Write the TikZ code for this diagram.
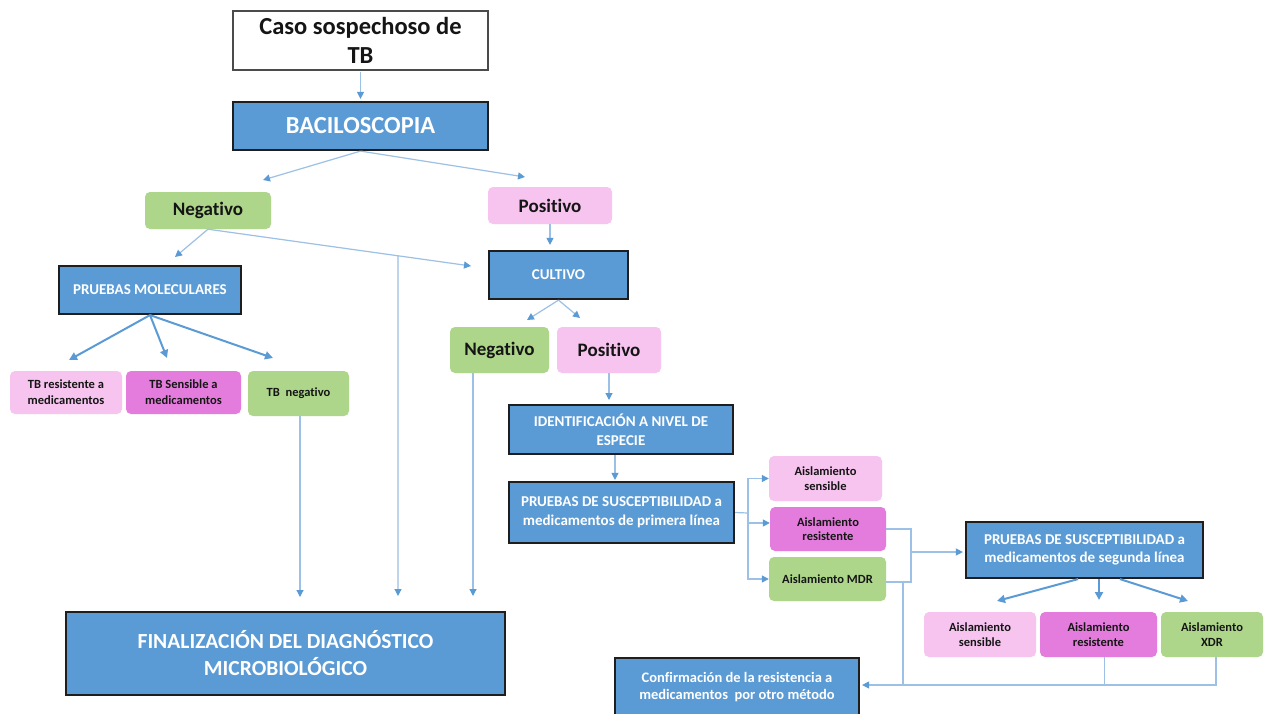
\documentclass[tikz,border=0pt]{standalone}
\usepackage{fontspec}
\setmainfont{Carlito}[Ligatures=NoCommon]
\usetikzlibrary{arrows.meta}
\definecolor{cblue}{HTML}{5B9BD5}
\definecolor{cline}{HTML}{9DC0E6}
\definecolor{cgreen}{HTML}{ADD68A}
\definecolor{clpink}{HTML}{F6C4EF}
\definecolor{cmag}{HTML}{E47CDD}
\definecolor{cborder}{HTML}{1E1E1E}
\definecolor{ctext}{HTML}{151515}
\begin{document}
\begin{tikzpicture}[x=1pt,y=-1pt,
  bluebox/.style={draw=cborder, line width=2.2pt, fill=cblue, text=white, align=center, inner sep=0pt, font=\bfseries},
  softbox/.style={rounded corners=5pt, inner sep=0pt, align=center, text=ctext, font=\bfseries},
  gbox/.style={softbox, fill=cgreen},
  pbox/.style={softbox, fill=clpink},
  mbox/.style={softbox, fill=cmag},
  conn/.style={draw=cline, line width=1.2pt},
  arr/.style={conn, -{Triangle[length=7pt,width=7pt,color=cblue]}},
  bigarr/.style={draw=cblue, line width=2pt, -{Triangle[length=8pt,width=8pt,color=cblue]}},
  fbig/.style={font=\fontsize{24.5}{29}\selectfont\bfseries},
  fmid/.style={font=\fontsize{19}{23}\selectfont\bfseries},
  fsm/.style={font=\fontsize{15}{18.5}\selectfont\bfseries},
  ftiny/.style={font=\fontsize{12.5}{16}\selectfont\bfseries},
  fais/.style={font=\fontsize{12.5}{14.5}\selectfont\bfseries}
]
\useasboundingbox (0,0) rectangle (1270,713);
\fill[white] (0,0) rectangle (1270,713);

% nodes
\node[draw=cborder!80, line width=1.4pt, fill=white, text=ctext, align=center, inner sep=0pt,
      minimum width=255pt, minimum height=59pt, fbig] (Caso) at (360.5,40.5) {Caso sospechoso de\\TB};
\node[bluebox, fbig, minimum width=255pt, minimum height=48pt] (BAC) at (360.5,126) {BACILOSCOPIA};
\node[gbox, fmid, minimum width=126pt, minimum height=37pt] (Neg1) at (208,210.5) {Negativo};
\node[pbox, fmid, minimum width=124pt, minimum height=37pt] (Pos1) at (550,205.5) {Positivo};
\node[bluebox, fsm, minimum width=182pt, minimum height=48pt] (PMOL) at (150,290) {PRUEBAS MOLECULARES};
\node[bluebox, fsm, minimum width=139pt, minimum height=48pt] (CULT) at (558.5,275) {CULTIVO};
\node[gbox, fmid, minimum width=99pt, minimum height=46pt] (Neg2) at (499.5,350) {Negativo};
\node[pbox, fmid, minimum width=104pt, minimum height=46pt] (Pos2) at (609,350) {Positivo};
\node[pbox, ftiny, minimum width=112pt, minimum height=43pt] (TBres) at (66,392.5) {TB resistente a\\medicamentos};
\node[mbox, ftiny, minimum width=115pt, minimum height=43pt] (TBsen) at (183.5,392.5) {TB Sensible a\\medicamentos};
\node[gbox, ftiny, minimum width=101pt, minimum height=45pt] (TBneg) at (298.5,393.5) {TB~ negativo};
\node[bluebox, fsm, minimum width=224pt, minimum height=49pt] (IDENT) at (621,429.5) {IDENTIFICACIÓN A NIVEL DE\\ESPECIE};
\node[bluebox, fsm, minimum width=225pt, minimum height=61pt] (PS1) at (621.5,512.5) {PRUEBAS DE SUSCEPTIBILIDAD a\\medicamentos de primera línea};
\node[pbox, fais, minimum width=113pt, minimum height=45pt] (AS1) at (825.5,478.5) {Aislamiento\\sensible};
\node[mbox, fais, minimum width=116pt, minimum height=44pt] (AR1) at (828,529) {Aislamiento\\resistente};
\node[gbox, fais, minimum width=117pt, minimum height=44pt] (AM1) at (827.5,579) {Aislamiento MDR};
\node[bluebox, fsm, minimum width=237pt, minimum height=56pt] (PS2) at (1084.5,550) {PRUEBAS DE SUSCEPTIBILIDAD a\\medicamentos de segunda línea};
\node[pbox, fais, minimum width=112pt, minimum height=45pt] (AS2) at (980,634.5) {Aislamiento\\sensible};
\node[mbox, fais, minimum width=117pt, minimum height=45pt] (AR2) at (1098.5,634.5) {Aislamiento\\resistente};
\node[gbox, fais, minimum width=102pt, minimum height=45pt] (AX2) at (1212,634.5) {Aislamiento\\XDR};
\node[bluebox, font=\fontsize{21.5}{27}\selectfont\bfseries, minimum width=439pt, minimum height=83pt] (FIN) at (285.5,653.5) {FINALIZACIÓN DEL DIAGNÓSTICO\\MICROBIOLÓGICO};
\node[bluebox, minimum width=244pt, minimum height=58pt, font=\fontsize{14.5}{17}\selectfont\bfseries] (CONF) at (737,687) {Confirmación de la resistencia a\\medicamentos~ por otro método};

% coordinates
\coordinate (tNeg) at (263,180);
\coordinate (tPos) at (525,177);
\coordinate (tPM) at (175,257);
\coordinate (tCu) at (471,266);
\coordinate (tF1) at (398,596);
\coordinate (tF2) at (300,597);
\coordinate (tF3) at (473,596);
\coordinate (tM1) at (69,360);
\coordinate (tM2) at (167,358);
\coordinate (tM3) at (273,358);
\coordinate (tC1) at (527,320);
\coordinate (tC2) at (580,318);
\coordinate (tP2) at (609,400);
\coordinate (br1) at (748,513);
\coordinate (b2) at (911,552);
\coordinate (cb) at (903,685);
\coordinate (tS1) at (997,601);
\coordinate (tS2) at (1099,600);
\coordinate (tS3) at (1188,601);

% connectors
\draw[arr, shorten <=1pt, shorten >=2pt] (Caso.south) -- (BAC.north);
\draw[arr] (BAC.south) -- (tNeg);
\draw[arr] (BAC.south) -- (tPos);
\draw[arr, shorten >=5pt] (Pos1.south) -- (Pos1.south |- CULT.north);
\draw[arr] (Neg1.south) -- (tPM);
\draw[arr] (Neg1.south) -- (tCu);
\path (Neg1.south) -- (tCu) coordinate[pos=0.7224] (vN);
\draw[arr] (vN) -- (tF1);
\draw[bigarr] (PMOL.south) -- (tM1);
\draw[bigarr] (PMOL.south) -- (tM2);
\draw[bigarr] (PMOL.south) -- (tM3);
\draw[arr] (TBneg.south -| tF2) -- (tF2);
\draw[arr] (CULT.south) -- (tC1);
\draw[arr] (CULT.south) -- (tC2);
\draw[arr] (Neg2.south -| tF3) -- (tF3);
\draw[arr] (Pos2.south) -- (tP2);
\draw[arr, shorten >=1pt] (IDENT.south -| 615,0) -- (PS1.north -| 615,0);
\draw[conn] (PS1.east) -- (br1);
\draw[arr] (br1) |- (AS1.west);
\draw[arr] (br1) |- ([yshift=6pt]AR1.west);
\draw[arr] (br1) |- (AM1.west);
\draw[conn] (AR1.east) -| (b2) |- ([yshift=-3pt]AM1.east);
\draw[arr, shorten >=2pt] (b2) -- (b2 -| PS2.west);
\draw[conn] ([yshift=-3pt]AM1.east -| cb) -- (cb);
\draw[arr, shorten >=2pt] (cb) -- (cb -| CONF.east);
\draw[conn] ([xshift=6pt]AR2.south) |- (cb);
\draw[conn] ([xshift=4pt]AX2.south) |- (cb);
\draw[bigarr] ([xshift=-6.5pt]PS2.south) -- (tS1);
\draw[bigarr] ([xshift=14.5pt]PS2.south) -- (tS2);
\draw[bigarr] ([xshift=35.5pt]PS2.south) -- (tS3);
\end{tikzpicture}
\end{document}
